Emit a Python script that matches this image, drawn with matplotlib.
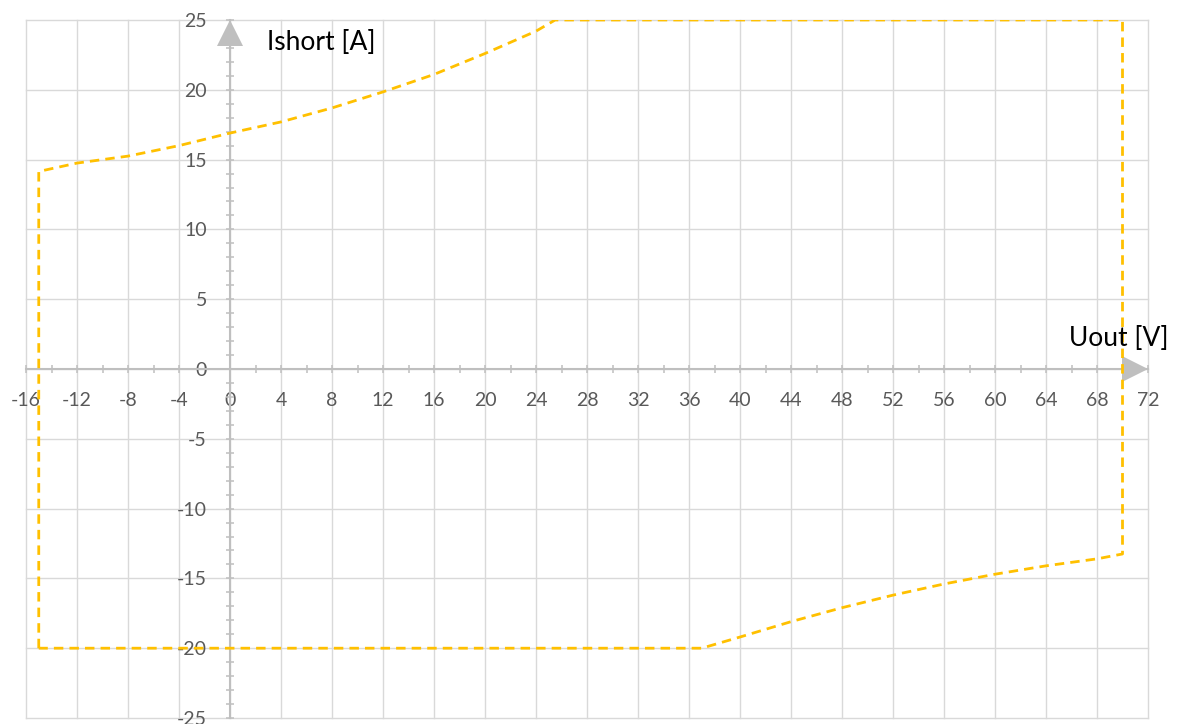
import matplotlib
matplotlib.use("Agg")
import matplotlib.pyplot as plt
from matplotlib.ticker import FixedLocator, MultipleLocator

# Output envelope, traced as one closed path: Uout [V] vs Ishort [A]
envelope_u = [-15, -15, -12, -8, -4, 0, 4, 8, 12, 16, 20, 24, 25.5,
              70, 70, 68, 64, 60, 56, 52, 48, 44, 40, 37, -15]
envelope_i = [-20, 14.15, 14.75, 15.25, 16.0, 16.9, 17.7, 18.7, 19.85, 21.1, 22.6, 24.2, 25,
              25, -13.25, -13.6, -14.1, -14.7, -15.4, -16.2, -17.1, -18.1, -19.2, -20, -20]

x_ticks = list(range(-16, 73, 4))
y_ticks = list(range(-25, 26, 5))
x_labels = [str(v) for v in x_ticks]
y_labels = [str(v) for v in y_ticks]

plt.rcParams["font.family"] = ["Lato", "DejaVu Sans"]

W, H = 1178, 724
fig = plt.figure(figsize=(W / 100, H / 100), dpi=100)
ax = fig.add_axes([26 / W, 6 / H, (1148 - 26) / W, (718 - 20) / H])

axis_grey = "#BFBFBF"
label_grey = "#595959"

ax.plot(envelope_u, envelope_i, color="#FFC000", linewidth=2.0,
        linestyle=(0, (3.4, 2.2)), zorder=3)

ax.set_xlim(x_ticks[0], x_ticks[-1])
ax.set_ylim(y_ticks[0], y_ticks[-1])

ax.xaxis.set_major_locator(FixedLocator(x_ticks))
ax.yaxis.set_major_locator(FixedLocator(y_ticks))
ax.xaxis.set_minor_locator(MultipleLocator(2))
ax.yaxis.set_minor_locator(MultipleLocator(1))
ax.set_xticklabels(x_labels)
ax.set_yticklabels(y_labels)

# axes cross at the origin
ax.spines["left"].set_position(("data", 0))
ax.spines["bottom"].set_position(("data", 0))
ax.spines["top"].set_visible(False)
ax.spines["right"].set_visible(False)
for side in ("left", "bottom"):
    ax.spines[side].set_color(axis_grey)
    ax.spines[side].set_linewidth(1.5)
    ax.spines[side].set_zorder(2)

ax.tick_params(which="both", direction="inout", length=5.8, width=1.1,
               color=axis_grey, labelcolor=label_grey, labelsize=14)
ax.tick_params(axis="x", which="major", pad=13.7)
ax.tick_params(axis="y", which="major", pad=13.8)

ax.grid(True, which="major", color="#D9D9D9", linewidth=1.0, zorder=0)
ax.set_axisbelow(True)
for gl in ax.xaxis.get_gridlines() + ax.yaxis.get_gridlines():
    gl.set_clip_on(False)

# arrow heads at the ends of both axes
ax.plot(0, 24.05, marker="^", markersize=18.7, color=axis_grey,
        markeredgewidth=0, clip_on=False, zorder=2)
ax.plot(71.0, 0, marker=">", markersize=18.7, color=axis_grey,
        markeredgewidth=0, clip_on=False, zorder=2)

ax.text(2.9, 23.4, "Ishort [A]", fontsize=19, color="black",
        ha="left", va="center")
ax.text(65.8, 2.15, "Uout [V]", fontsize=19, color="black",
        ha="left", va="center")

fig.savefig("out.png", dpi=100)
